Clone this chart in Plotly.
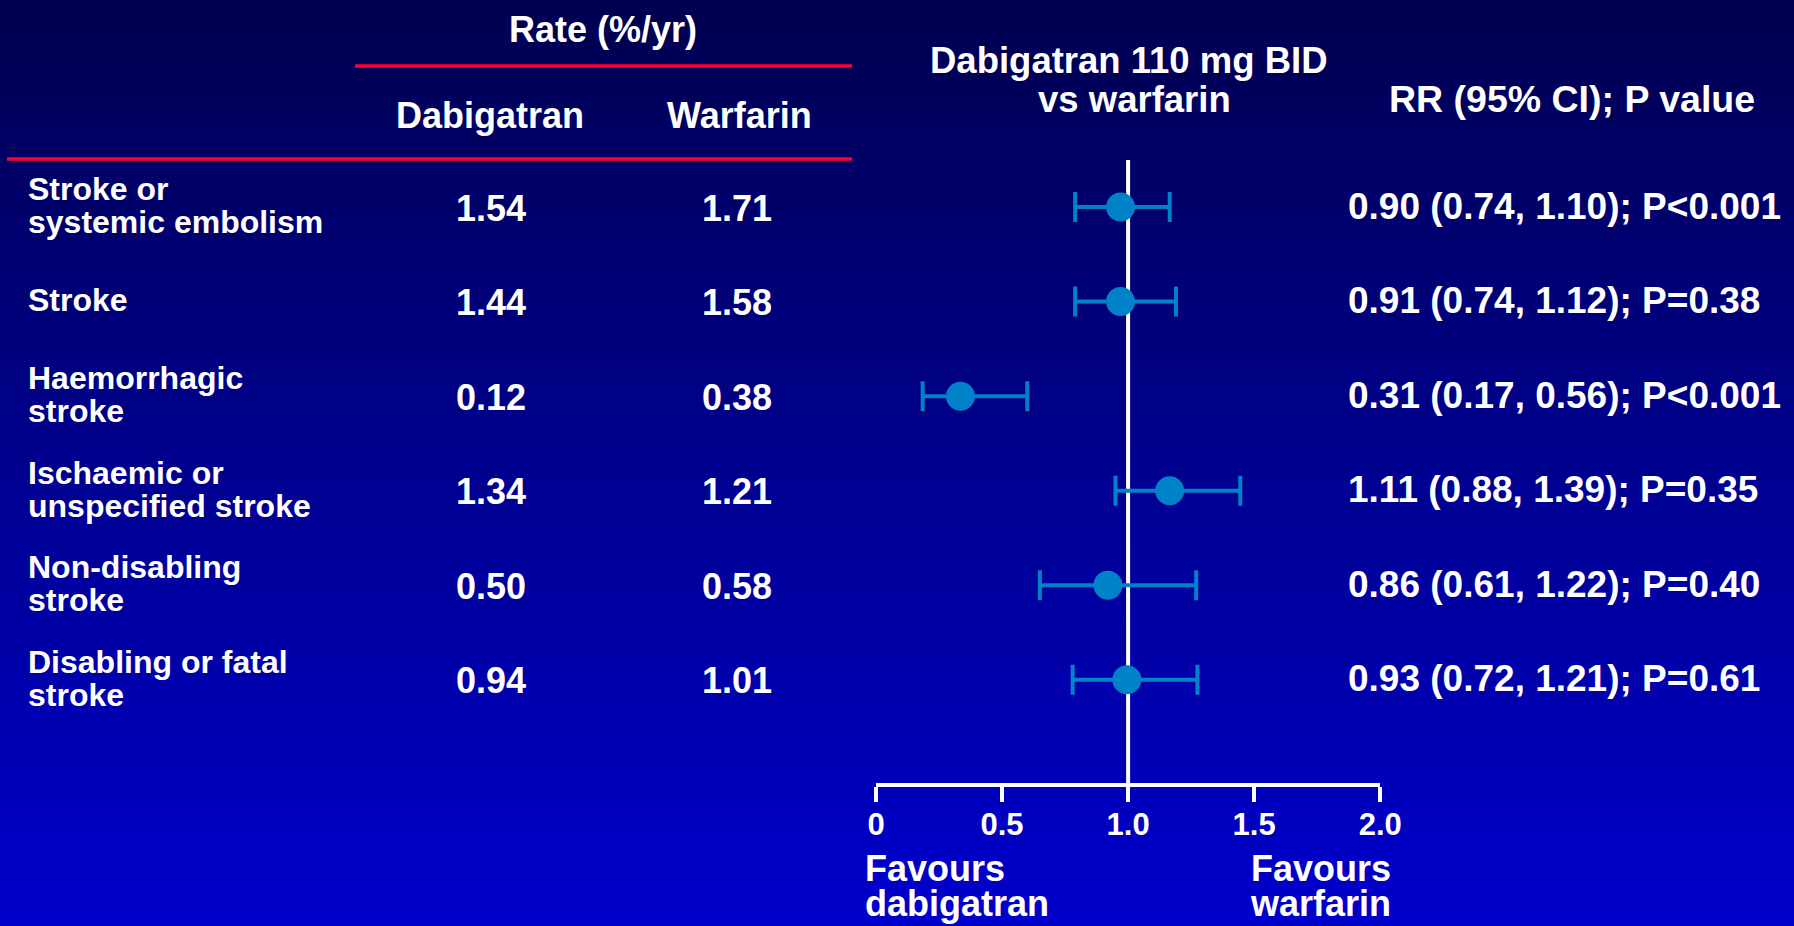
import plotly.graph_objects as go

W, H = 1794, 926

# ---------------- data ----------------
outcome_lines = [
    ["Stroke or", "systemic embolism"],
    ["Stroke"],
    ["Haemorrhagic", "stroke"],
    ["Ischaemic or", "unspecified stroke"],
    ["Non-disabling", "stroke"],
    ["Disabling or fatal", "stroke"],
]
dabigatran_rate = ["1.54", "1.44", "0.12", "1.34", "0.50", "0.94"]
warfarin_rate = ["1.71", "1.58", "0.38", "1.21", "0.58", "1.01"]
rr_text = [
    "0.90 (0.74, 1.10); P<0.001",
    "0.91 (0.74, 1.12); P=0.38",
    "0.31 (0.17, 0.56); P<0.001",
    "1.11 (0.88, 1.39); P=0.35",
    "0.86 (0.61, 1.22); P=0.40",
    "0.93 (0.72, 1.21); P=0.61",
]
# positions of the markers as drawn in the picture
rr_plot = [0.97, 0.97, 0.335, 1.165, 0.92, 0.995]
ci_low_plot = [0.79, 0.79, 0.185, 0.95, 0.65, 0.78]
ci_high_plot = [1.165, 1.19, 0.60, 1.445, 1.27, 1.275]

tick_vals = [0, 0.5, 1.0, 1.5, 2.0]
tick_text = ["0", "0.5", "1.0", "1.5", "2.0"]

rows = list(range(len(outcome_lines)))

# ---------------- style ----------------
FONT = "Liberation Sans, Arial, Helvetica, sans-serif"
WHITE = "#FFFFFF"
DOT = "#0082C8"
RED = "#FF0030"


def px(x):
    return x / W


def py(y):
    return 1 - y / H


fig = go.Figure()

fig.add_trace(go.Scatter(
    x=rr_plot,
    y=rows,
    mode="markers",
    marker=dict(size=29, color=DOT, line=dict(width=0)),
    error_x=dict(
        type="data",
        symmetric=False,
        array=[h - v for h, v in zip(ci_high_plot, rr_plot)],
        arrayminus=[v - l for v, l in zip(rr_plot, ci_low_plot)],
        color=DOT,
        thickness=4,
        width=15,
    ),
    hoverinfo="skip",
    showlegend=False,
))

shapes = []
# background gradient
n_bands = 93
top = (0, 0, 0x50)
bot = (0, 0, 0xCC)
for k in range(n_bands):
    t = k / (n_bands - 1)
    c = tuple(round(a + (b - a) * t) for a, b in zip(top, bot))
    shapes.append(dict(
        type="rect", xref="paper", yref="paper",
        x0=-0.01, x1=1.01, y0=1 - (k + 1) / n_bands - 0.001, y1=1 - k / n_bands,
        fillcolor="rgb(%d,%d,%d)" % c, line=dict(width=0), layer="below",
    ))
# red header rules
shapes.append(dict(type="line", xref="paper", yref="paper",
                   x0=px(355), x1=px(852), y0=py(66), y1=py(66),
                   line=dict(color=RED, width=3.5)))
shapes.append(dict(type="line", xref="paper", yref="paper",
                   x0=px(7), x1=px(852), y0=py(159), y1=py(159),
                   line=dict(color=RED, width=3.5)))
# line of no effect
shapes.append(dict(type="line", xref="x", yref="y domain",
                   x0=1, x1=1, y0=0, y1=1,
                   line=dict(color=WHITE, width=4), layer="below"))

ann = []


def add_text(text, x, y, size, xanchor="center", yref="paper", yshift=0):
    ann.append(dict(
        text=text, x=x, y=y, xref="paper", yref=yref,
        xanchor=xanchor, yanchor="middle", showarrow=False,
        yshift=yshift,
        font=dict(family=FONT, size=size, color=WHITE, weight="bold"),
    ))


# column headers
add_text("Rate (%/yr)", px(603), py(29), 36)
add_text("Dabigatran", px(490), py(116), 36)
add_text("Warfarin", px(739), py(116), 36)
add_text("Dabigatran 110 mg BID", px(1129), py(60), 36.5)
add_text("vs warfarin", px(1134), py(99), 36.5)
add_text("RR (95% CI); P value", px(1572), py(99), 37.5)

# rows
for i in rows:
    lines = outcome_lines[i]
    if len(lines) == 1:
        add_text(lines[0], px(26), i, 32, xanchor="left", yref="y", yshift=2)
    else:
        add_text(lines[0], px(26), i, 32, xanchor="left", yref="y", yshift=18)
        add_text(lines[1], px(26), i, 32, xanchor="left", yref="y", yshift=-15)
    add_text(dabigatran_rate[i], px(491), i, 36, yref="y", yshift=-1)
    add_text(warfarin_rate[i], px(737), i, 36, yref="y", yshift=-1)
    add_text(rr_text[i], px(1346), i, 37, xanchor="left", yref="y", yshift=1)

# favours labels
add_text("Favours", px(863), py(868), 36, xanchor="left")
add_text("dabigatran", px(863), py(903), 36, xanchor="left")
add_text("Favours", px(1393), py(868), 36, xanchor="right")
add_text("warfarin", px(1393), py(903), 36, xanchor="right")

fig.update_layout(
    template="none",
    width=W, height=H,
    autosize=False,
    margin=dict(l=0, r=0, t=0, b=0, pad=0, autoexpand=False),
    paper_bgcolor="rgb(0,0,150)",
    plot_bgcolor="rgba(0,0,0,0)",
    shapes=shapes,
    annotations=ann,
    showlegend=False,
    xaxis=dict(
        domain=[876 / W, (876 + 2 * 252.1) / W],
        range=[0, 2],
        automargin=False,
        tickmode="array", tickvals=tick_vals, ticktext=tick_text,
        showline=True, linecolor=WHITE, linewidth=3.5,
        ticks="outside", ticklen=15, tickwidth=3.5, tickcolor=WHITE,
        ticklabelstandoff=-4,
        tickfont=dict(family=FONT, size=31, color=WHITE, weight="bold"),
        showgrid=False, zeroline=False, fixedrange=True,
    ),
    yaxis=dict(
        domain=[1 - 783 / H, 1 - 160 / H],
        range=[6.092, -0.498],
        automargin=False,
        visible=False, showgrid=False, zeroline=False, fixedrange=True,
    ),
)

fig.write_html(
    "out.html",
    config={"displayModeBar": False, "responsive": False},
    post_script="document.body.style.margin='0';document.body.style.padding='0';"
                "document.body.style.overflow='hidden';"
                "document.documentElement.style.overflow='hidden';",
)
